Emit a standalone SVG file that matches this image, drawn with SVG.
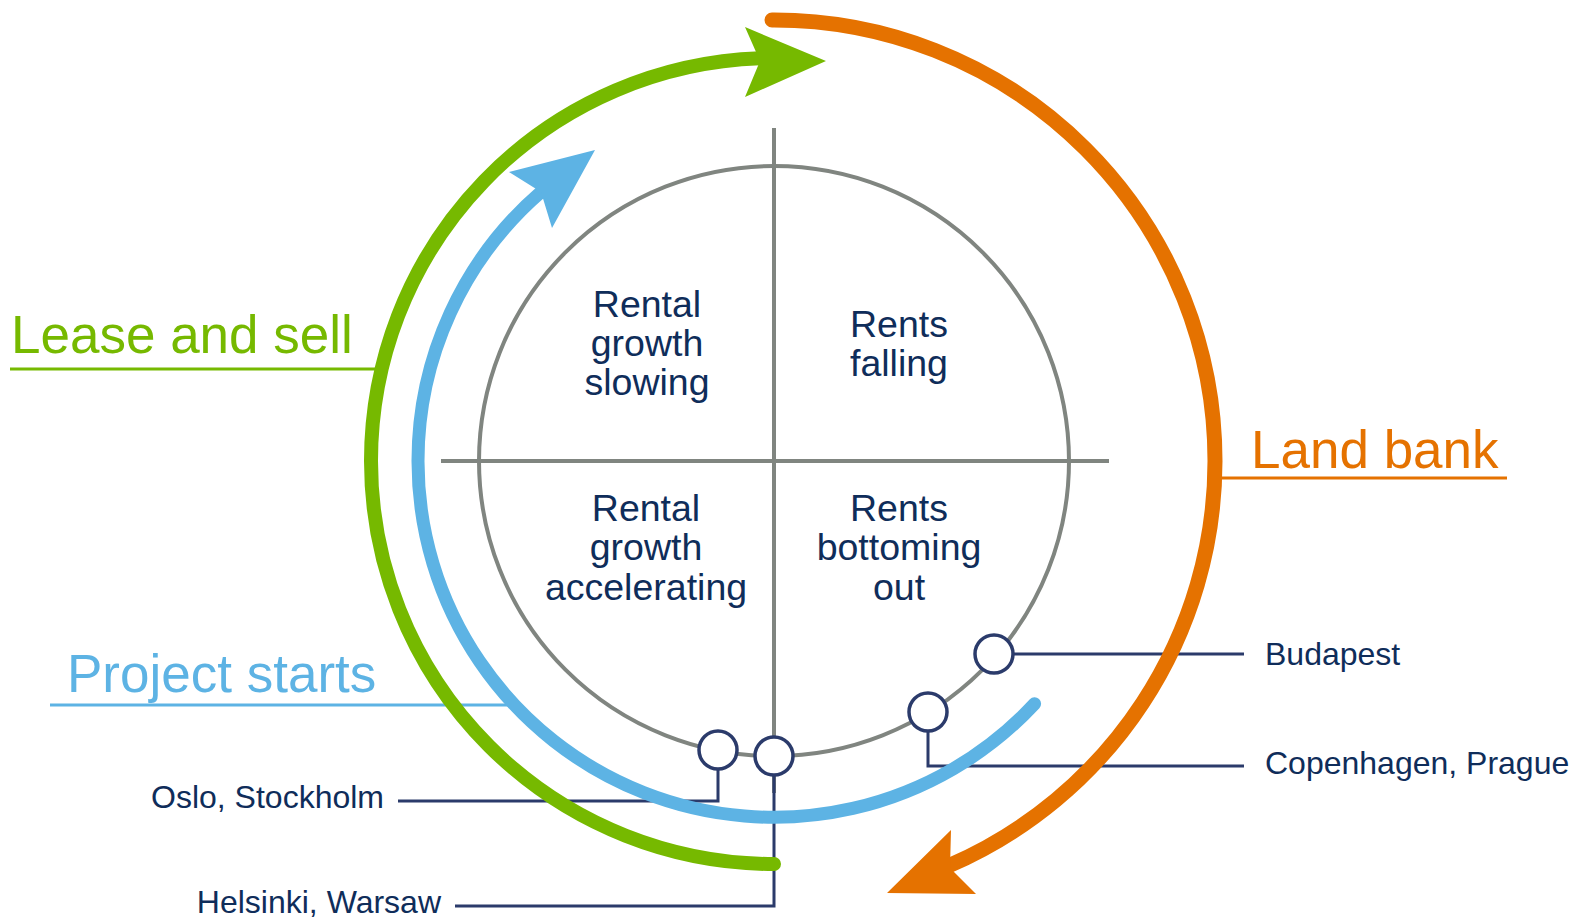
<svg xmlns="http://www.w3.org/2000/svg" width="1574" height="918" viewBox="0 0 1574 918">
<style>
.gray{fill:none;stroke:#808580;stroke-width:4}
.conn{fill:none;stroke:#2b3b6b;stroke-width:3}
.dot{fill:#ffffff;stroke:#2b3b6b;stroke-width:3.5}
.q{font-family:"Liberation Sans",Arial,sans-serif;font-size:37.5px;fill:#0f2d5a;text-anchor:middle}
.city{font-family:"Liberation Sans",Arial,sans-serif;font-size:32px;fill:#0f2d5a}
.big{font-family:"Liberation Sans",Arial,sans-serif;font-size:53px}
</style>
<rect width="1574" height="918" fill="#ffffff"/>
<g id="cycle-grid">
<circle class="gray" cx="774" cy="461" r="295"/>
<line class="gray" x1="441" y1="461" x2="1109" y2="461"/>
<line class="gray" x1="774" y1="128" x2="774" y2="793"/>
</g>
<g id="connectors">
<path class="conn" d="M1013 654 H1244"/>
<path class="conn" d="M928 731 V766 H1244"/>
<path class="conn" d="M718 769 V801 H398"/>
<path class="conn" d="M774 775 V906 H455"/>
<path d="M10 369 H380" fill="none" stroke="#76b900" stroke-width="3"/>
<path d="M50 705 H512" fill="none" stroke="#5db3e4" stroke-width="3"/>
<path d="M1215 478 H1507" fill="none" stroke="#e57200" stroke-width="3"/>
</g>
<g id="project-starts-arc">
<path d="M1034.6 703.8 A356 356 0 0 1 418 461 A356 356 0 0 1 541.1 191.8" fill="none" stroke="#5db3e4" stroke-width="13" stroke-linecap="round"/>
<polygon points="595,150 509,172 541,192 552,228" fill="#5db3e4"/>
</g>
<g id="lease-and-sell-arc">
<path d="M774 864 A403 403 0 0 1 371 461 A403 403 0 0 1 760 58.24" fill="none" stroke="#76b900" stroke-width="14" stroke-linecap="round"/>
<polygon points="826,61 745,27 760,61 745,97" fill="#76b900"/>
</g>
<g id="land-bank-arc">
<path d="M772 20 A441 441 0 0 1 1215 461 A441 441 0 0 1 949.6 865.4" fill="none" stroke="#e57200" stroke-width="15" stroke-linecap="round"/>
<polygon points="887,893 951,830 950,868 976,894" fill="#e57200"/>
</g>
<g id="markers">
<circle class="dot" cx="718" cy="750" r="19"/>
<circle class="dot" cx="774" cy="756" r="19"/>
<circle class="dot" cx="928" cy="712" r="19"/>
<circle class="dot" cx="994" cy="654" r="19"/>
</g>
<g id="q-top-left">
<text class="q" x="647" y="317">Rental</text>
<text class="q" x="647" y="356">growth</text>
<text class="q" x="647" y="395">slowing</text>
</g>
<g id="q-top-right">
<text class="q" x="899" y="337">Rents</text>
<text class="q" x="899" y="376">falling</text>
</g>
<g id="q-bottom-left">
<text class="q" x="646" y="521">Rental</text>
<text class="q" x="646" y="560">growth</text>
<text class="q" x="646" y="600">accelerating</text>
</g>
<g id="q-bottom-right">
<text class="q" x="899" y="521">Rents</text>
<text class="q" x="899" y="560">bottoming</text>
<text class="q" x="899" y="600">out</text>
</g>
<g id="labels">
<text class="big" x="11" y="353" fill="#76b900">Lease and sell</text>
<text class="big" x="67" y="692" fill="#5db3e4">Project starts</text>
<text class="big" x="1251" y="468" fill="#e57200" font-size="52">Land bank</text>
<text class="city" x="1265" y="665">Budapest</text>
<text class="city" x="1265" y="774">Copenhagen, Prague</text>
<text class="city" x="384" y="808" text-anchor="end">Oslo, Stockholm</text>
<text class="city" x="441" y="913" text-anchor="end">Helsinki, Warsaw</text>
</g>
</svg>
